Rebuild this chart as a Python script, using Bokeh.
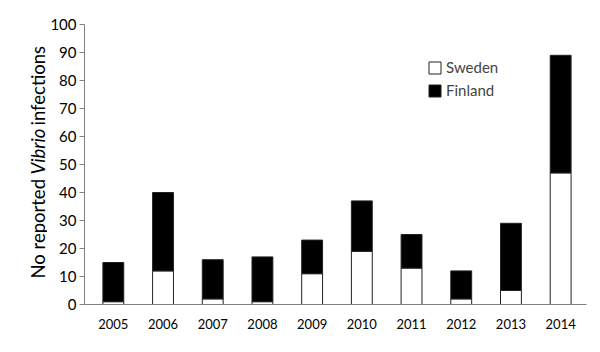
import math
from bokeh.plotting import figure
from bokeh.layouts import row
from bokeh.models import ColumnDataSource, Range1d, FixedTicker, Legend, LegendItem, Label
from bokeh.embed import file_html
from bokeh.resources import INLINE

years = [2005, 2006, 2007, 2008, 2009, 2010, 2011, 2012, 2013, 2014]
sweden = [1, 12, 2, 1, 11, 19, 13, 2, 5, 47]
finland = [14, 28, 14, 16, 12, 18, 12, 10, 24, 42]
y_ticks = [0, 10, 20, 30, 40, 50, 60, 70, 80, 90, 100]

FONT = "Lato"
LEFT_W = 47

src = ColumnDataSource(dict(year=years, Sweden=sweden, Finland=finland))

p = figure(width=600 - LEFT_W, height=352, output_backend="svg", toolbar_location=None,
           x_range=Range1d(2004.42, 2014.52), y_range=Range1d(0, 100),
           min_border_left=10, min_border_right=14, min_border_top=24, min_border_bottom=48)
p.outline_line_color = None
p.xgrid.grid_line_color = None
p.ygrid.grid_line_color = None
p.background_fill_color = "white"

r = p.vbar_stack(["Sweden", "Finland"], x="year", width=0.42, source=src,
                 fill_color=["white", "black"], line_color="#222222", line_width=1)

# axes
p.xaxis.ticker = FixedTicker(ticks=years)
p.xaxis.major_tick_line_color = None
p.xaxis.minor_tick_line_color = None
p.xaxis.axis_line_color = "#808080"
p.xaxis.major_label_text_font = FONT
p.xaxis.major_label_text_font_size = "13px"
p.xaxis.major_label_text_color = "black"
p.xaxis.major_label_standoff = 8

p.yaxis.axis_label = None
p.yaxis.ticker = FixedTicker(ticks=y_ticks)
p.yaxis.minor_tick_line_color = None
p.yaxis.minor_tick_out = 0
p.yaxis.axis_line_color = "#808080"
p.yaxis.major_tick_line_color = "#808080"
p.yaxis.major_tick_in = 0
p.yaxis.major_tick_out = 5
p.yaxis.major_label_text_font = FONT
p.yaxis.major_label_text_font_size = "15px"
p.yaxis.major_label_text_color = "black"
p.yaxis.major_label_standoff = 3

legend = Legend(items=[LegendItem(label="Sweden", renderers=[r[0]]),
                       LegendItem(label="Finland", renderers=[r[1]])],
                location=(343, 205), border_line_color=None, background_fill_alpha=0,
                glyph_width=15, glyph_height=15, label_text_font=FONT,
                label_text_font_size="15px", spacing=5, padding=0, margin=0,
                label_standoff=4)
p.add_layout(legend)

# left strip holding the y-axis title (mixed upright / italic text);
# its frame is aligned with the main frame (24..304 px from the top)
lp = figure(width=LEFT_W, height=352, output_backend="svg", toolbar_location=None,
            x_range=Range1d(0, LEFT_W), y_range=Range1d(0, 280),
            min_border=0, min_border_left=0, min_border_right=0,
            min_border_top=24, min_border_bottom=48)
lp.axis.visible = False
lp.grid.visible = False
lp.outline_line_color = None
for txt, yy, style in [("No reported", 26, "normal"), ("Vibrio", 130, "italic"), ("infections", 179, "normal")]:
    lp.add_layout(Label(x=37, y=yy, x_units="screen", y_units="screen", text=txt,
                        angle=math.pi / 2, text_font=FONT,
                        text_font_size="18.5px", text_font_style=style, text_color="black",
                        text_baseline="middle", text_align="left"))

layout = row(lp, p, spacing=0)
open("out.html", "w").write(file_html(layout, INLINE))
